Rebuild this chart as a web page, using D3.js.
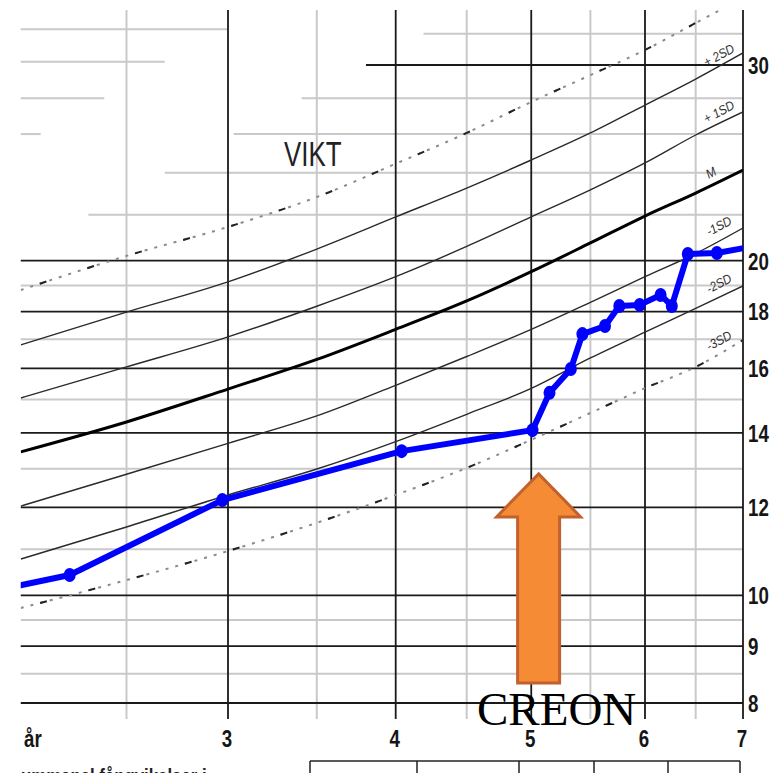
<!DOCTYPE html>
<html>
<head>
<meta charset="utf-8">
<script src="https://cdn.jsdelivr.net/npm/d3@7"></script>
<style>
  html, body { margin: 0; padding: 0; background: #fff; }
  svg { display: block; }
</style>
</head>
<body>
<svg id="chart"></svg>
<script>

var w = 783;
var h = 773;

// ages (years) where the reference curves were read
var ages = [2.05, 2.5, 3, 3.5, 4, 4.5, 5, 5.5, 6, 6.5, 7];

// reference curves, weight kg
var plus3  = [18.82, 20.20, 21.45, 22.82, 24.45, 26.06, 27.79, 29.38, 30.95, 32.73, 34.47];
var plus2  = [16.80, 17.98, 19.14, 20.49, 21.90, 23.25, 24.64, 26.06, 27.61, 29.14, 30.76];
var plus1  = [15.05, 16.05, 17.08, 18.20, 19.35, 20.60, 21.90, 23.16, 24.49, 25.95, 27.22];
var median = [13.46, 14.32, 15.33, 16.30, 17.35, 18.40, 19.55, 20.75, 21.94, 23.01, 24.13];
var minus1 = [12.03, 12.85, 13.70, 14.50, 15.45, 16.40, 17.35, 18.35, 19.35, 20.30, 21.40];
var minus2 = [10.78, 11.52, 12.31, 12.99, 13.75, 14.55, 15.35, 16.35, 17.25, 18.12, 18.98];
var minus3 = [9.74, 10.32, 10.96, 11.62, 12.31, 13.02, 13.80, 14.59, 15.36, 16.05, 16.97];

// patient measurements
var childAge    = [1.75, 2.25, 2.97, 4.04, 5.01, 5.15, 5.33, 5.43, 5.63, 5.76, 5.95, 6.15, 6.26, 6.42, 6.72, 7.2];
var childWeight = [9.86, 10.43, 12.18, 13.48, 14.08, 15.21, 15.98, 17.18, 17.47, 18.21, 18.25, 18.63, 18.21, 20.28, 20.32, 20.66];
var shownPoints = [1, 2, 3, 4, 5, 6, 7, 8, 9, 10, 11, 12, 13, 14];

// axis ticks
var yTicks = [8, 9, 10, 12, 14, 16, 18, 20, 30];
var yMajor = [8, 9, 10, 12, 14, 16, 18, 20];
var yMinor = [8.5, 9.5, 11, 13, 15, 17, 19];
var xTicks = [3, 4, 5, 6, 7];
var xHalf = [2.5, 3.5, 4.5, 5.5, 6.5];
var xLabels = ['3', '4', '5', '6', '7'];

// partial grid lines at the top (part of the sheet is blanked out)
var topSegments = [
  { v: 22, a0: 2.33, a1: 7 },
  { v: 24, a0: 2.68, a1: 7 },
  { v: 26, a0: 2.05, a1: 2.13 },
  { v: 26, a0: 3.03, a1: 7 },
  { v: 28, a0: 2.05, a1: 2.40 },
  { v: 28, a0: 3.41, a1: 7 },
  { v: 30.2, a0: 2.05, a1: 2.68 },
  { v: 32.3, a0: 2.05, a1: 3 },
  { v: 32, a0: 4.19, a1: 7 }
];

var svg = d3.select('#chart')
  .attr('width', w)
  .attr('height', h)
  .style('background-color', '#fff');

// chart x is log of age counted from conception
var xLog = d3.scaleLog().domain([3.75, 7.75]).range([228, 743]);
function x(a) { return xLog(a + 0.75); }

var y = d3.scaleLog().domain([8, 30]).range([703, 65]);

var plotLeft = x(2.05), plotRight = x(7), plotTop = 10, plotBottom = y(8);

svg.append('defs').append('clipPath')
  .attr('id', 'plot')
  .append('rect')
  .attr('x', plotLeft)
  .attr('y', plotTop)
  .attr('width', plotRight - plotLeft)
  .attr('height', plotBottom - plotTop + 20);

var grid = svg.append('g');

// minor horizontals
grid.selectAll('.hminor')
  .data(yMinor)
  .enter()
  .append('line')
  .attr('x1', plotLeft).attr('x2', plotRight)
  .attr('y1', d => y(d)).attr('y2', d => y(d))
  .style('stroke', '#c9c9c9')
  .style('stroke-width', 2);

grid.selectAll('.hseg')
  .data(topSegments)
  .enter()
  .append('line')
  .attr('x1', d => x(d.a0)).attr('x2', d => x(d.a1))
  .attr('y1', d => y(d.v)).attr('y2', d => y(d.v))
  .style('stroke', '#c9c9c9')
  .style('stroke-width', 2);

// half year verticals
grid.selectAll('.vminor')
  .data(xHalf)
  .enter()
  .append('line')
  .attr('x1', d => x(d)).attr('x2', d => x(d))
  .attr('y1', plotTop).attr('y2', plotBottom + 16)
  .style('stroke', '#c9c9c9')
  .style('stroke-width', 2);

// major horizontals
grid.selectAll('.hmajor')
  .data(yMajor)
  .enter()
  .append('line')
  .attr('x1', plotLeft).attr('x2', plotRight)
  .attr('y1', d => y(d)).attr('y2', d => y(d))
  .style('stroke', '#1a1a1a')
  .style('stroke-width', 1.8);

grid.append('line')
  .attr('x1', x(3.805)).attr('x2', plotRight)
  .attr('y1', y(30)).attr('y2', y(30))
  .style('stroke', '#1a1a1a')
  .style('stroke-width', 1.8);

grid.selectAll('.vmajor')
  .data(xTicks)
  .enter()
  .append('line')
  .attr('x1', d => x(d)).attr('x2', d => x(d))
  .attr('y1', plotTop).attr('y2', plotBottom + 16)
  .style('stroke', '#1a1a1a')
  .style('stroke-width', 1.8);

// reference curves
var line = d3.line()
  .x((d, i) => x(ages[i]))
  .y(d => y(d))
  .curve(d3.curveMonotoneX);

var curves = svg.append('g').attr('clip-path', 'url(#plot)');

[plus2, plus1, minus1, minus2].forEach(function(c) {
  curves.append('path')
    .attr('d', line(c))
    .attr('fill', 'none')
    .style('stroke', '#2a2a2a')
    .style('stroke-width', 1.4);
});

curves.append('path')
  .attr('d', line(median))
  .attr('fill', 'none')
  .style('stroke', '#000')
  .style('stroke-width', 3);

[plus3, minus3].forEach(function(c) {
  curves.append('path')
    .attr('d', line(c))
    .attr('fill', 'none')
    .style('stroke', '#8a8a8a')
    .style('stroke-width', 2)
    .style('stroke-dasharray', '3,7');
  curves.append('path')
    .attr('d', line(c))
    .attr('fill', 'none')
    .style('stroke', '#222')
    .style('stroke-width', 2)
    .style('stroke-dasharray', '7,43')
    .style('stroke-dashoffset', -20);
});

var sansFont = "'Liberation Sans', Arial, sans-serif";

// curve labels
var sdLabels = [
  { t: '+ 2SD', c: plus2, dy: -10 },
  { t: '+ 1SD', c: plus1, dy: -11 },
  { t: 'M', c: median, dy: -8 },
  { t: '-1SD', c: minus1, dy: -14 },
  { t: '-2SD', c: minus2, dy: -13 },
  { t: '-3SD', c: minus3, dy: -12 }
];

svg.selectAll('.sd')
  .data(sdLabels)
  .enter()
  .append('text')
  .attr('transform', function(d) {
    var yy = y(d.c[9]) + (y(d.c[10]) - y(d.c[9])) * 0.52 + d.dy;
    return 'translate(' + (d.t == 'M' ? 711 : 719) + ',' + yy + ') rotate(-28) scale(0.9,1)';
  })
  .attr('text-anchor', 'middle')
  .attr('dominant-baseline', 'central')
  .style('font-family', sansFont)
  .style('font-style', 'italic')
  .style('font-size', '13px')
  .style('fill', '#333')
  .text(d => d.t);

// patient curve
var childLine = d3.line()
  .x(i => x(childAge[i]))
  .y(i => y(childWeight[i]));

var kid = svg.append('g').attr('clip-path', 'url(#plot)');

kid.append('path')
  .attr('d', childLine(d3.range(childAge.length)))
  .attr('fill', 'none')
  .style('stroke', '#0000ff')
  .style('stroke-width', 6)
  .style('stroke-linejoin', 'round');

kid.selectAll('ellipse')
  .data(shownPoints)
  .enter()
  .append('ellipse')
  .attr('cx', i => x(childAge[i]))
  .attr('cy', i => y(childWeight[i]))
  .attr('rx', 6)
  .attr('ry', 7)
  .attr('fill', '#0000ff');

// axis labels (condensed bold)
svg.selectAll('.ylab')
  .data(yTicks)
  .enter()
  .append('text')
  .attr('transform', d => 'translate(748,' + (y(d) + 1) + ') scale(0.78,1)')
  .attr('dominant-baseline', 'central')
  .style('font-family', sansFont)
  .style('font-weight', 'bold')
  .style('font-size', '24px')
  .style('fill', '#161616')
  .text(d => d);

svg.selectAll('.xlab')
  .data(xTicks)
  .enter()
  .append('text')
  .attr('transform', d => 'translate(' + (x(d) - 1) + ',747) scale(0.78,1)')
  .attr('text-anchor', 'middle')
  .style('font-family', sansFont)
  .style('font-weight', 'bold')
  .style('font-size', '24px')
  .style('fill', '#161616')
  .text((d, i) => xLabels[i]);

svg.append('text')
  .attr('transform', 'translate(24,747) scale(0.78,1)')
  .style('font-family', sansFont)
  .style('font-weight', 'bold')
  .style('font-size', '24px')
  .style('fill', '#161616')
  .text('år');

svg.append('text')
  .attr('transform', 'translate(284,166) scale(0.72,1)')
  .style('font-family', sansFont)
  .style('font-size', '36px')
  .style('fill', '#222')
  .text('VIKT');

// table edge under the chart
var tableCols = [310, 417, 519, 594, 668, 740];
svg.append('line')
  .attr('x1', 310).attr('x2', 740)
  .attr('y1', 761).attr('y2', 761)
  .style('stroke', '#222')
  .style('stroke-width', 1.5);
svg.selectAll('.tcol')
  .data(tableCols)
  .enter()
  .append('line')
  .attr('x1', d => d).attr('x2', d => d)
  .attr('y1', 761).attr('y2', h)
  .style('stroke', '#222')
  .style('stroke-width', 1.5);

svg.append('text')
  .attr('transform', 'translate(21,783) scale(0.8,1)')
  .style('font-family', sansFont)
  .style('font-weight', 'bold')
  .style('font-size', '21px')
  .style('fill', '#222')
  .text('ummanal fångvikelser i');

// CREON arrow
var ax = x(5.06), tipY = y(12.86);
var arrow = [
  [ax, tipY], [ax + 42, tipY + 43], [ax + 21, tipY + 43], [ax + 21, tipY + 209],
  [ax - 21, tipY + 209], [ax - 21, tipY + 43], [ax - 42, tipY + 43]
];
svg.append('polygon')
  .attr('points', arrow.map(p => p.join(',')).join(' '))
  .attr('fill', '#f68b36')
  .style('stroke', '#c2612b')
  .style('stroke-width', 3)
  .style('stroke-linejoin', 'miter');

svg.append('text')
  .attr('x', 477)
  .attr('y', 725)
  .style('font-family', "'Liberation Serif', 'Times New Roman', serif")
  .style('font-size', '47px')
  .style('fill', '#000')
  .text('CREON');

</script>
</body>
</html>
